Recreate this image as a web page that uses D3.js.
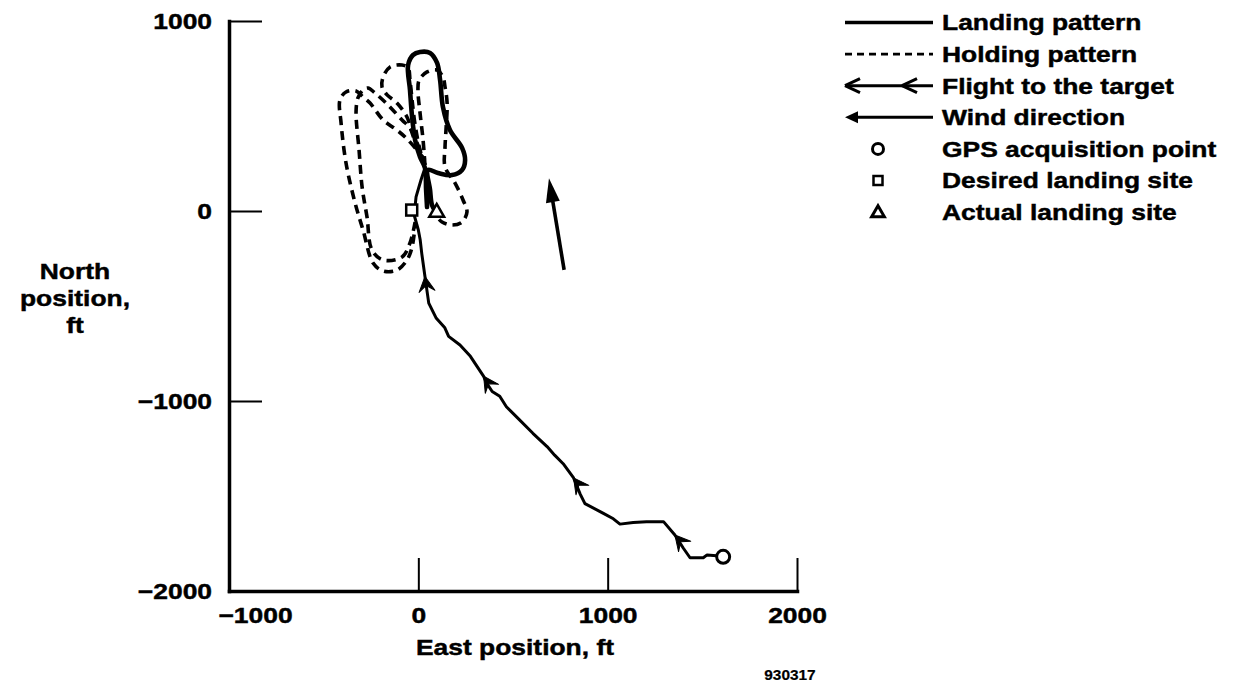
<!DOCTYPE html>
<html><head><meta charset="utf-8">
<script src="https://cdn.jsdelivr.net/npm/d3@7"></script>
<style>
html,body{margin:0;padding:0;background:#fff;}
svg{display:block;}
text{font-family:"Liberation Sans", Arial, Helvetica, sans-serif;font-weight:bold;fill:#000;stroke:#000;stroke-width:0.45px;}
</style></head><body>
<svg id="chart" width="1237" height="685"></svg>
<script>
// ---------- data (ft) ----------
const xTicks = [-1000, 0, 1000, 2000];
const yTicks = [1000, 0, -1000, -2000];
const xLabel = "East position, ft";
const yLabelLines = ["North", "position,", "ft"];
const figureId = "930317";

// flight from GPS acquisition point to the target area (east, north)
const flightPath = [[1610,-1820],[1575,-1815],[1525,-1810],[1505,-1825],[1435,-1825],[1400,-1775],
  [1355,-1705],[1295,-1635],[1205,-1635],[1135,-1640],[1065,-1648],[1030,-1620],[975,-1590],
  [880,-1540],[855,-1490],[820,-1405],[765,-1330],[720,-1285],[680,-1240],[605,-1170],[520,-1085],
  [465,-1030],[430,-975],[390,-950],[360,-905],[345,-870],[275,-765],[220,-705],[160,-660],
  [140,-615],[95,-565],[55,-485],[45,-415],[35,-345],[18,-223],[10,-153],[0,-100],[-22,-21],
  [-12,74],[14,163],[35,226]];
const flightArrowIdx = [6, 15, 25, 33];

// holding pattern loops (dashed)
const holdingOuter = [[35,268],[-54,374],[-113,426],[-186,479],[-255,568],[-292,600],[-329,632],
  [-382,626],[-414,584],[-408,463],[-382,253],[-334,42],[-292,-100],[-239,-274],[-186,-316],
  [-113,-311],[-60,-258],[-33,-189],[-17,-74]];
const holdingInner = [[-17,-58],[-44,-168],[-86,-242],[-186,-258],[-245,-205],[-271,-32],
  [-297,126],[-313,321],[-329,521],[-319,595],[-292,637],[-266,647],[-229,621],[-160,558],
  [-86,479],[-44,437],[-2,347],[35,242]];
const holdingTop = [[35,242],[-2,321],[-33,411],[-60,495],[-113,568],[-165,611],[-192,653],
  [-186,705],[-149,758],[-86,768],[-54,753],[-44,689],[-33,584],[-17,453],[9,321],[35,242]];
const holdingRight = [[35,242],[25,374],[9,516],[-2,637],[4,689],[46,732],[99,742],[130,705],
  [141,653],[152,568],[146,426],[141,337],[141,232],[194,147],[236,58],[257,-5],[231,-58],
  [178,-74],[125,-58],[99,-32]];

// landing pattern (thick solid)
const landingPattern = [[46,21],[41,111],[35,226],[9,284],[-17,374],[-33,495],[-44,637],[-54,768],
  [-28,821],[9,837],[62,832],[99,779],[115,689],[130,547],[167,426],[231,332],[247,268],[231,216],
  [178,189],[104,200],[51,216],[62,111],[72,32],[93,-5]];

const gpsPoint = [1610, -1820];
const desiredSite = [-35, 5];
const actualSite = [97, -8];
const windFrom = [770, -310];
const windTo = [690, 172];

const legendLabels = ["Landing pattern", "Holding pattern", "Flight to the target", "Wind direction",
  "GPS acquisition point", "Desired landing site", "Actual landing site"];

// ---------- drawing ----------
const svg = d3.select("#chart");
const FS = 22, STRETCH = 1.2;
function stretch(sel, k) {
  sel.each(function () {
    const len = this.getComputedTextLength();
    d3.select(this).attr("textLength", len * k).attr("lengthAdjust", "spacingAndGlyphs");
  });
}

const x = d3.scaleLinear().domain([-1000, 2000]).range([229, 797]);
const y = d3.scaleLinear().domain([-2000, 1000]).range([591, 21]);
const fmt = d3.format("d");

// axes
const gx = svg.append("g").attr("transform", `translate(0,${y(-2000)})`)
  .call(d3.axisBottom(x).tickValues(xTicks).tickSize(-33).tickSizeOuter(0).tickPadding(19).tickFormat(fmt));
const gy = svg.append("g").attr("transform", `translate(${x(-1000)},0)`)
  .call(d3.axisLeft(y).tickValues(yTicks).tickSize(-33).tickSizeOuter(0).tickPadding(17).tickFormat(fmt));
[gx, gy].forEach(g => {
  g.select(".domain").attr("stroke", "#000").attr("stroke-width", 3.5).attr("stroke-linecap", "square");
  g.selectAll(".tick line").attr("stroke", "#000").attr("stroke-width", 2);
  g.selectAll(".tick text").attr("font-size", FS).attr("font-family", null).attr("fill", "#000");
});
gx.selectAll(".tick text").filter(d => d === -1000).attr("dx", 26);
gx.selectAll(".tick text").attr("dy", "0.6em");
stretch(gx.selectAll(".tick text"), STRETCH);
stretch(gy.selectAll(".tick text"), STRETCH);

// axis titles
const xt = svg.append("text").attr("x", (x(0) + x(1000)) / 2 + 2).attr("y", 655)
  .attr("text-anchor", "middle").attr("font-size", FS).text(xLabel);
stretch(xt, STRETCH);
const yt = svg.append("g").selectAll("text").data(yLabelLines).join("text")
  .attr("x", 75).attr("y", (d, i) => 279 + i * 27).attr("text-anchor", "middle")
  .attr("font-size", FS).text(d => d);
stretch(yt, STRETCH);
const idt = svg.append("text").attr("x", 790).attr("y", 680).attr("text-anchor", "middle")
  .attr("font-size", 14).style("stroke-width", "0.2px").text(figureId);
stretch(idt, 1.1);

const line = d3.line().x(d => x(d[0])).y(d => y(d[1]));
const smooth = d3.line().x(d => x(d[0])).y(d => y(d[1])).curve(d3.curveCatmullRom.alpha(0.5));

// holding pattern
svg.append("g").selectAll("path").data([holdingOuter, holdingInner, holdingTop, holdingRight]).join("path")
  .attr("d", smooth).attr("fill", "none").attr("stroke", "#000").attr("stroke-width", 3.6)
  .attr("stroke-dasharray", "9,6").attr("stroke-linejoin", "round");

// landing pattern
svg.append("path").attr("d", smooth(landingPattern)).attr("fill", "none").attr("stroke", "#000")
  .attr("stroke-width", 4.6).attr("stroke-linejoin", "round").attr("stroke-linecap", "round");

// flight to the target
svg.append("path").attr("d", line(flightPath)).attr("fill", "none").attr("stroke", "#000")
  .attr("stroke-width", 3).attr("stroke-linejoin", "round");

const barb = "M0,0 L-15,-8 L-9,0 L-15,8 Z";
svg.append("g").selectAll("path").data(flightArrowIdx).join("path")
  .attr("d", barb).attr("fill", "#000").attr("stroke", "#000").attr("stroke-width", 1)
  .attr("stroke-linejoin", "round")
  .attr("transform", i => {
    const p = flightPath[i], q = flightPath[i + 1];
    const a = Math.atan2(y(q[1]) - y(p[1]), x(q[0]) - x(p[0])) * 180 / Math.PI;
    return `translate(${x(p[0])},${y(p[1])}) rotate(${a})`;
  });

// wind arrow
{
  const a = Math.atan2(y(windTo[1]) - y(windFrom[1]), x(windTo[0]) - x(windFrom[0]));
  const hx = x(windTo[0]) - 18 * Math.cos(a), hy = y(windTo[1]) - 18 * Math.sin(a);
  svg.append("line").attr("x1", x(windFrom[0])).attr("y1", y(windFrom[1])).attr("x2", hx).attr("y2", hy)
    .attr("stroke", "#000").attr("stroke-width", 3.6);
  svg.append("path").attr("d", "M0,0 L-24,-7 L-24,7 Z").attr("fill", "#000")
    .attr("transform", `translate(${x(windTo[0])},${y(windTo[1])}) rotate(${a * 180 / Math.PI})`);
}

// markers
svg.append("circle").attr("cx", x(gpsPoint[0])).attr("cy", y(gpsPoint[1])).attr("r", 6.5)
  .attr("fill", "#fff").attr("stroke", "#000").attr("stroke-width", 3);
svg.append("rect").attr("x", x(desiredSite[0]) - 5.5).attr("y", y(desiredSite[1]) - 5.5)
  .attr("width", 11).attr("height", 11).attr("fill", "#fff").attr("stroke", "#000").attr("stroke-width", 2.5);
svg.append("path").attr("d", d3.symbol(d3.symbolTriangle, 95)())
  .attr("transform", `translate(${x(actualSite[0])},${y(actualSite[1])})`)
  .attr("fill", "#fff").attr("stroke", "#000").attr("stroke-width", 2.5);

// legend
const lg = svg.append("g");
const rowY = i => 22.5 + i * 31.6;
const lx0 = 845, lx1 = 933, mx = 878;
const lt = lg.selectAll("text").data(legendLabels).join("text")
  .attr("x", 942).attr("y", (d, i) => rowY(i)).attr("dy", "0.36em").attr("font-size", FS).text(d => d);
stretch(lt, STRETCH);
lg.append("line").attr("x1", lx0).attr("x2", lx1).attr("y1", rowY(0)).attr("y2", rowY(0))
  .attr("stroke", "#000").attr("stroke-width", 3.6);
lg.append("line").attr("x1", lx0).attr("x2", lx1).attr("y1", rowY(1)).attr("y2", rowY(1))
  .attr("stroke", "#000").attr("stroke-width", 2.8).attr("stroke-dasharray", "7,5");
lg.append("line").attr("x1", lx0 + 2).attr("x2", lx1).attr("y1", rowY(2)).attr("y2", rowY(2))
  .attr("stroke", "#000").attr("stroke-width", 3);
[lx0, 902].forEach(px => {
  lg.append("path").attr("d", "M0,0 L15,-7 M0,0 L15,7").attr("fill", "none").attr("stroke", "#000")
    .attr("stroke-width", 3).attr("transform", `translate(${px},${rowY(2)})`);
});
lg.append("line").attr("x1", lx0 + 8).attr("x2", lx1).attr("y1", rowY(3)).attr("y2", rowY(3))
  .attr("stroke", "#000").attr("stroke-width", 3);
lg.append("path").attr("d", "M0,0 L13,-6 L13,6 Z").attr("fill", "#000")
  .attr("transform", `translate(${lx0},${rowY(3)})`);
lg.append("circle").attr("cx", mx).attr("cy", rowY(4)).attr("r", 5.5)
  .attr("fill", "#fff").attr("stroke", "#000").attr("stroke-width", 3);
lg.append("rect").attr("x", mx - 4.5).attr("y", rowY(5) - 4.5).attr("width", 9).attr("height", 9)
  .attr("fill", "#fff").attr("stroke", "#000").attr("stroke-width", 2.5);
lg.append("path").attr("d", d3.symbol(d3.symbolTriangle, 70)())
  .attr("transform", `translate(${mx},${rowY(6) + 1})`)
  .attr("fill", "#fff").attr("stroke", "#000").attr("stroke-width", 3);
</script>
</body></html>
